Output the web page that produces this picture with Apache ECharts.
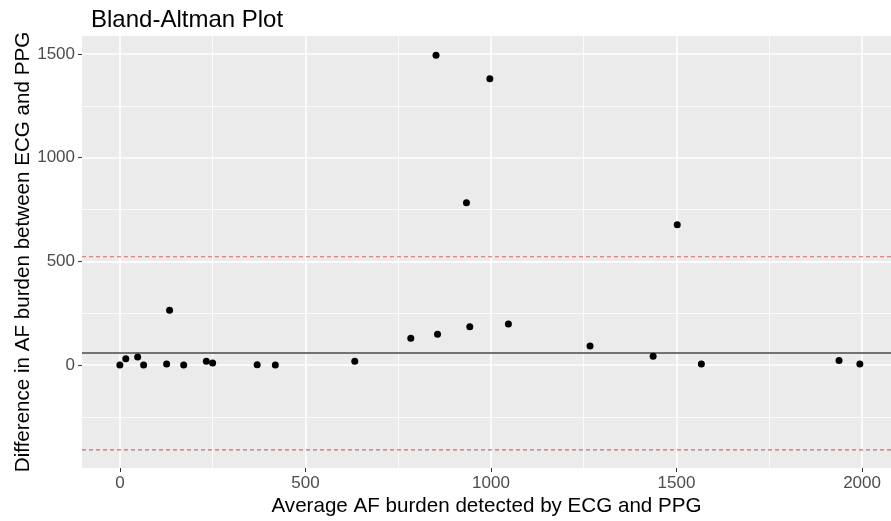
<!DOCTYPE html>
<html>
<head>
<meta charset="utf-8">
<script src="https://cdn.jsdelivr.net/npm/echarts@6/dist/echarts.min.js"></script>
<style>html,body{margin:0;padding:0;background:#fff}#c{width:891px;height:521px}</style>
</head>
<body>
<div id="c"></div>
<script>
// Average AF burden (x) and difference (y)
var avgBurden = [0, 16, 48, 64, 126, 134, 172, 233, 250, 370, 419, 633, 784, 852, 856, 934, 943, 997, 1047, 1267, 1437, 1502, 1567, 1938, 1994];
var diffBurden = [0, 30, 39, 0, 5, 264, 0, 18, 10, 1, 0, 18, 129, 1494, 148, 783, 185, 1381, 198, 92, 42, 677, 5, 21, 5];
var meanDiff = 58;
var upperLoA = 522;
var lowerLoA = -410;
var xTicks = [0, 500, 1000, 1500, 2000];
var xMinor = [250, 750, 1250, 1750];
var yTicks = [0, 500, 1000, 1500];
var yMinor = [-250, 250, 750, 1250];

var X_MIN = -102, X_MAX = 2078, Y_MIN = -497, Y_MAX = 1587;
var FONT = '"Liberation Sans", Arial, sans-serif';
var points = avgBurden.map(function (x, i) { return [x, diffBurden[i]]; });

var minorLines = [];
xMinor.forEach(function (v) { minorLines.push({ xAxis: v }); });
yMinor.forEach(function (v) { minorLines.push({ yAxis: v }); });

function hLine(name, y, style) {
  return {
    name: name, type: 'line', data: [[X_MIN, y], [X_MAX, y]],
    showSymbol: false, symbol: 'none', silent: true, z: 2,
    lineStyle: style
  };
}

var chart = echarts.init(document.getElementById('c'), null, { renderer: 'canvas' });
chart.setOption({
  animation: false,
  backgroundColor: '#ffffff',
  title: {
    text: 'Bland-Altman Plot',
    left: 86, top: 3,
    textStyle: { fontFamily: FONT, fontSize: 24, fontWeight: 'normal', color: '#000000' }
  },
  grid: {
    left: 82, right: 0, top: 36, bottom: 53,
    containLabel: false, outerBoundsMode: 'none',
    show: true, backgroundColor: '#EBEBEB', borderWidth: 0
  },
  xAxis: {
    type: 'value', min: X_MIN, max: X_MAX,
    name: 'Average AF burden detected by ECG and PPG',
    nameLocation: 'middle', nameGap: 28, nameMoveOverlap: false,
    nameTextStyle: { fontFamily: FONT, fontSize: 20.6, color: '#000000' },
    axisLine: { show: false, onZero: false },
    axisTick: { show: true, length: 4, customValues: xTicks, lineStyle: { color: '#333333', width: 1 } },
    axisLabel: { customValues: xTicks, margin: 7, fontFamily: FONT, fontSize: 17, color: '#4D4D4D',
      formatter: function (v) { return String(v); } },
    splitLine: { show: true, lineStyle: { color: '#ffffff', width: 1.6 } }
  },
  yAxis: {
    type: 'value', min: Y_MIN, max: Y_MAX,
    name: 'Difference in AF burden between ECG and PPG',
    nameLocation: 'middle', nameGap: 48, nameMoveOverlap: false,
    nameTextStyle: { fontFamily: FONT, fontSize: 20.6, color: '#000000' },
    axisLine: { show: false, onZero: false },
    axisTick: { show: true, length: 4, customValues: yTicks, lineStyle: { color: '#333333', width: 1 } },
    axisLabel: { customValues: yTicks, margin: 7, fontFamily: FONT, fontSize: 17, color: '#4D4D4D',
      formatter: function (v) { return String(v); } },
    splitLine: { show: true, lineStyle: { color: '#ffffff', width: 1.6 } }
  },
  series: [
    {
      name: 'minorGrid', type: 'scatter', data: [], z: 1, silent: true,
      markLine: { z: 1, silent: true, symbol: ['none', 'none'], label: { show: false }, animation: false,
        lineStyle: { color: '#ffffff', width: 0.8, type: 'solid' }, data: minorLines }
    },
    hLine('mean', meanDiff, { color: '#727272', width: 2, type: 'solid' }),
    hLine('upper', upperLoA, { color: '#D46A6A', width: 1.2, type: [4, 3] }),
    hLine('lower', lowerLoA, { color: '#D46A6A', width: 1.2, type: [4, 3] }),
    {
      name: 'points', type: 'scatter', data: points, z: 3,
      symbol: 'circle', symbolSize: 7,
      itemStyle: { color: '#000000', opacity: 1 }
    }
  ]
});
</script>
</body>
</html>
